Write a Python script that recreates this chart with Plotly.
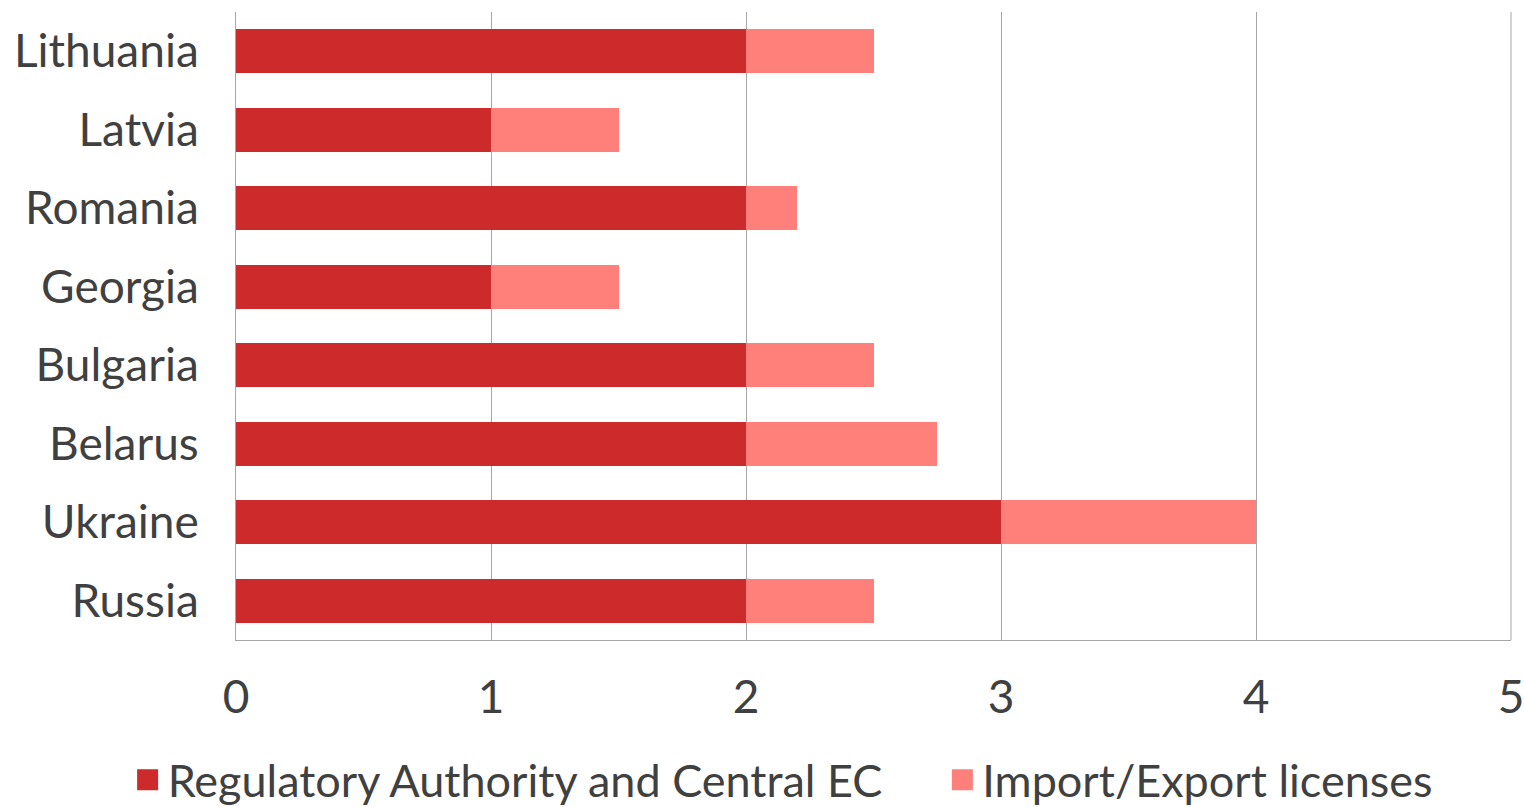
import plotly.graph_objects as go

countries = ["Lithuania", "Latvia", "Romania", "Georgia", "Bulgaria", "Belarus", "Ukraine", "Russia"]
regulatory = [2, 1, 2, 1, 2, 2, 3, 2]
licenses = [0.5, 0.5, 0.2, 0.5, 0.5, 0.75, 1, 0.5]
series_names = ["Regulatory Authority and Central EC", "Import/Export licenses"]
colors = ["#CD2A2C", "#FF7F7B"]
x_ticks = [0, 1, 2, 3, 4, 5]

FONT = "Lato"
TXT = "#404040"
GRID = "#A6A6A6"
FS = 46
LFS = 45

fig = go.Figure()
for vals, name, col in zip([regulatory, licenses], series_names, colors):
    fig.add_trace(go.Bar(y=countries, x=vals, orientation="h", name=name,
                         marker=dict(color=col, line=dict(width=0)), showlegend=False))
for name, col, lg in zip(series_names, colors, ["legend", "legend2"]):
    fig.add_trace(go.Scatter(x=[None], y=[None], mode="markers", name=name, legend=lg,
                             marker=dict(symbol="square", size=22, color=col,
                                         line=dict(color=col, width=5))))

# right frame line of the plot area
fig.add_shape(type="line", xref="x domain", yref="y domain", x0=1, x1=1, y0=0, y1=1,
              line=dict(color=GRID, width=1))

leg_common = dict(orientation="h", xanchor="left", y=-0.223, yanchor="middle",
                  font=dict(size=LFS, color=TXT), itemwidth=30, bgcolor="rgba(0,0,0,0)")

fig.update_layout(
    barmode="stack",
    bargap=0.44,
    width=1524, height=807,
    margin=dict(l=236, r=13, t=12, b=167, autoexpand=False),
    paper_bgcolor="white", plot_bgcolor="white",
    font=dict(family=FONT, size=FS, color=TXT),
    legend=dict(x=-0.085, **leg_common),
    legend2=dict(x=0.554, **leg_common),
    xaxis=dict(range=[0, 5], tickvals=x_ticks, showgrid=True, gridcolor=GRID, gridwidth=1,
               showline=True, linecolor=GRID, linewidth=1, zeroline=False, automargin=False,
               ticks="", ticklabelstandoff=17, ticklabeloverflow="allow",
               tickfont=dict(size=FS, color=TXT)),
    yaxis=dict(autorange="reversed", showgrid=False, showline=True, linecolor=GRID,
               linewidth=1, ticks="", ticklabelstandoff=27, automargin=False,
               tickfont=dict(size=FS, color=TXT)),
)

fig.write_html("out.html")
